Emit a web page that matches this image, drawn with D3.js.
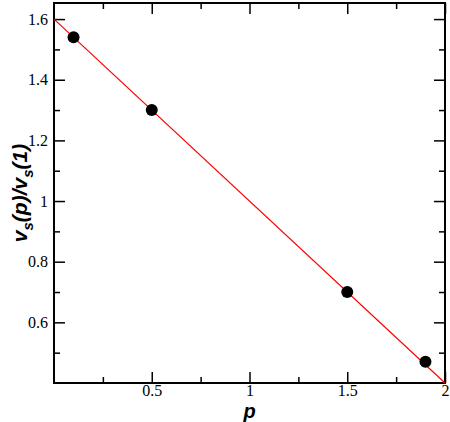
<!DOCTYPE html>
<html><head><meta charset="utf-8">
<script src="https://cdn.jsdelivr.net/npm/d3@7"></script>
<style>body{margin:0;background:#fff}svg{display:block}</style>
</head><body>
<svg id="c" width="450" height="422"></svg>
<script>
const pValues = [0.1, 0.5, 1.5, 1.9];
const ratioValues = [1.54, 1.30, 0.70, 0.47];
const fitX = [0, 2];
const fitY = [1.6, 0.4];
const xTicks = [0.5, 1, 1.5, 2];
const xTickLabels = ["0.5", "1", "1.5", "2"];
const yTicks = [0.6, 0.8, 1.0, 1.2, 1.4, 1.6];
const yTickLabels = ["0.6", "0.8", "1", "1.2", "1.4", "1.6"];
const xMinor = [0.25, 0.75, 1.25, 1.75];
const yMinor = [0.5, 0.7, 0.9, 1.1, 1.3, 1.5];

const L = 54, R = 445, T = 3, B = 383;
const x = d3.scaleLinear().domain([0, 2]).range([L, R]);
const y = d3.scaleLinear().domain([0.4, 1.653]).range([B, T]);
const svg = d3.select("#c");
const SERIF = "'Liberation Serif', Tinos, 'Nimbus Roman', 'DejaVu Serif', serif";
const SANS = "'Liberation Sans', Arimo, 'Nimbus Sans', Arial, sans-serif";

function ticks(axisGen, tr, vals, len, labels) {
  const g = svg.append("g").attr("transform", tr)
    .call(axisGen.tickValues(vals).tickSizeInner(-len).tickSizeOuter(0)
      .tickFormat(labels ? (d, i) => labels[i] : () => ""));
  g.attr("font-family", null).attr("font-size", null);
  g.select(".domain").remove();
  g.selectAll(".tick line").attr("stroke", "#000").attr("stroke-width", 1.5);
  g.selectAll(".tick text")
    .style("font-family", SERIF)
    .style("font-size", "16px").attr("fill", "#000");
  return g;
}
const gx = ticks(d3.axisBottom(x), `translate(0,${B})`, xTicks, 11, xTickLabels);
gx.selectAll(".tick text").attr("dy", null).attr("y", 13);
ticks(d3.axisBottom(x), `translate(0,${B})`, xMinor, 6);
ticks(d3.axisTop(x), `translate(0,${T})`, xTicks, 11);
ticks(d3.axisTop(x), `translate(0,${T})`, xMinor, 6);
const gy = ticks(d3.axisLeft(y), `translate(${L},0)`, yTicks, 11, yTickLabels);
gy.selectAll(".tick text").attr("x", -6);
ticks(d3.axisLeft(y), `translate(${L},0)`, yMinor, 6);
ticks(d3.axisRight(y), `translate(${R},0)`, yTicks, 11);
ticks(d3.axisRight(y), `translate(${R},0)`, yMinor, 6);

svg.append("rect").attr("x", L).attr("y", T).attr("width", R - L).attr("height", B - T)
  .attr("fill", "none").attr("stroke", "#000").attr("stroke-width", 2);

svg.append("path").datum(fitX.map((d, i) => [d, fitY[i]]))
  .attr("d", d3.line().x(d => x(d[0])).y(d => y(d[1])))
  .attr("stroke", "#ff0000").attr("stroke-width", 1.2).attr("fill", "none");

svg.selectAll("circle.pt").data(pValues).join("circle").attr("class", "pt")
  .attr("cx", d => x(d)).attr("cy", (d, i) => y(ratioValues[i])).attr("r", 6).attr("fill", "#000");

svg.append("text").attr("x", (L + R) / 2).attr("y", 418).attr("text-anchor", "middle")
  .style("font-family", SANS).attr("font-weight", "bold")
  .attr("font-style", "italic").style("font-size", "20px").text("p");

const yl = svg.append("text").attr("transform", `translate(27,${(T + B) / 2}) rotate(-90)`)
  .attr("text-anchor", "middle")
  .style("font-family", SANS).attr("font-weight", "bold")
  .attr("font-style", "italic").style("font-size", "21px");
yl.append("tspan").text("v");
yl.append("tspan").attr("dy", 6).style("font-size", "15px").text("s");
yl.append("tspan").attr("dy", -6).text("(p)/v");
yl.append("tspan").attr("dy", 6).style("font-size", "15px").text("s");
yl.append("tspan").attr("dy", -6).text("(1)");
</script>
</body></html>
